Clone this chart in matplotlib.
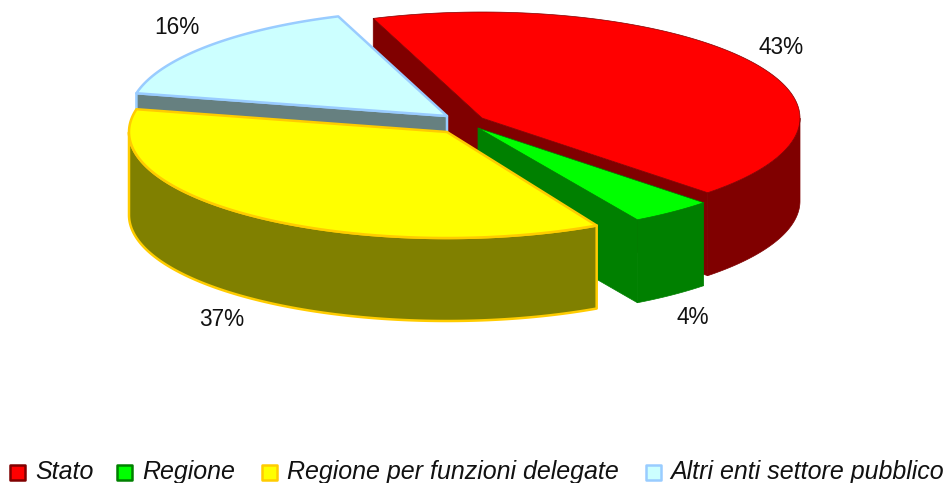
import numpy as np
import matplotlib
matplotlib.use("Agg")
import matplotlib.pyplot as plt
from matplotlib.patches import Polygon, Rectangle

plt.rcParams['font.family'] = ['Liberation Sans', 'DejaVu Sans']

# slice sizes, a bit finer than the rounded labels
categories = ['Stato', 'Regione', 'Regione per funzioni delegate', 'Altri enti settore pubblico']
shares = [43.0, 4.2, 36.8, 16.0]
pct_labels = ['43%', '4%', '37%', '16%']

fills = ['#ff0000', '#00ff00', '#ffff00', '#ccffff']
sides = ['#800000', '#008000', '#808000', '#668080']
edges = ['#800000', '#008000', '#ffcc00', '#99ccff']
edge_w = [0.5, 0.5, 1.8, 1.8]

# apex of each exploded slice, in pixels
apex = [(482, 118), (478, 128), (447, 132), (447, 116)]
trim = [0, 0, 2, 0]  # yellow starts a little late in the reference
visible_cuts = [(0, -1), (-1,), (), (0,)]  # which cut faces can be seen
label_pos = [(781, 48), (693, 317), (222, 320), (177, 28)]
legend_x = [(10, 35), (117, 142), (262, 287), (646, 670)]

RX, RY = 318, 106
DEPTH = 83
START = 110

fig = plt.figure(figsize=(9.46, 4.83), dpi=100)
ax = fig.add_axes([0, 0, 1, 1])
ax.set_xlim(0, 946)
ax.set_ylim(483, 0)
ax.axis('off')


def arc(c, t1, t2, n=120):
    t = np.radians(np.linspace(t1, t2, n))
    return np.column_stack([c[0] + RX * np.cos(t), c[1] - RY * np.sin(t)])


def draw_slice(i, t1, t2):
    c = np.array(apex[i], dtype=float)
    down = np.array([0, DEPTH])
    pts = arc(c, t1, t2)
    for k in visible_cuts[i]:
        p = pts[k]
        face = [c, p, p + down, c + down]
        ax.add_patch(Polygon(face, fc=sides[i], ec=edges[i], lw=edge_w[i], joinstyle='round'))
    # outer wall, only the front half of the rim shows
    t = np.linspace(t1, t2, 240)
    front = np.sin(np.radians(t)) <= 0
    if front.any():
        rim = arc(c, t[front][0], t[front][-1], 240)
        wall = np.vstack([rim, (rim + down)[::-1]])
        ax.add_patch(Polygon(wall, fc=sides[i], ec=edges[i], lw=edge_w[i], joinstyle='round'))
    ax.add_patch(Polygon(np.vstack([c, pts]), fc=fills[i], ec=edges[i], lw=edge_w[i], joinstyle='round'))


angles = START - np.cumsum([0] + shares) * 3.6
for i in [0, 3, 1, 2]:
    draw_slice(i, angles[i] - trim[i], angles[i + 1])

for txt, (x, y) in zip(pct_labels, label_pos):
    ax.text(x, y, txt, fontsize=16.3, color='#111111', ha='center', va='center')

for i, name in enumerate(categories):
    bx, tx = legend_x[i]
    ax.add_patch(Rectangle((bx, 465), 15, 15, fc=fills[i], ec=edges[i], lw=1.8, joinstyle='round'))
    ax.text(tx, 479, name, fontsize=18, style='italic', color='#111111', ha='left', va='baseline')

fig.savefig('out.png', dpi=100)
